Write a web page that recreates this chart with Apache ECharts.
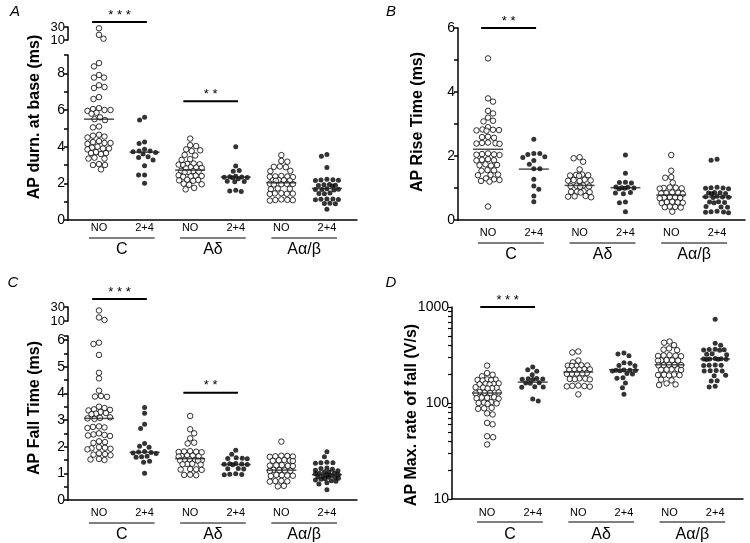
<!DOCTYPE html>
<html><head><meta charset="utf-8">
<script src="https://cdn.jsdelivr.net/npm/echarts@6/dist/echarts.min.js"></script>
<style>html,body{margin:0;padding:0;background:#fff}#main{width:750px;height:543px}</style>
</head><body><div id="main"></div>
<script>
// ---------------- DATA ----------------
const groupNames = ['C', 'Aδ', 'Aα/β'];
const condLabels = ['NO', '2+4'];
const columns = [1, 2, 3, 4, 5, 6];
const groupCentres = [1.5, 3.5, 5.5];

// A: AP duration at base (ms)
const durC_NO_hi = [28, 18, 12];
const durC_NO = [8.56, 8.38, 7.91, 7.77, 7.77, 7.35, 7.25, 7.2, 6.7, 6.6, 6.1, 6.05, 6.0, 6.0, 5.95, 5.85, 5.8, 5.6, 5.5, 5.45, 5.1, 5.05, 4.65, 4.6, 4.55, 4.5, 4.3, 4.25, 4.2, 4.2, 4.15, 4.0, 3.95, 3.9, 3.9, 3.85, 3.7, 3.65, 3.65, 3.6, 3.4, 3.35, 3.35, 3.05, 3.0, 3.0, 2.76];
const durC_24 = [5.6, 5.45, 4.26, 4.17, 3.86, 3.77, 3.77, 3.72, 3.68, 3.6, 3.45, 3.41, 3.27, 2.96, 2.45, 2.45, 2.0];
const durAd_NO = [4.44, 4.08, 4.03, 3.85, 3.8, 3.76, 3.55, 3.52, 3.32, 3.28, 3.08, 3.06, 3.04, 3.02, 3.0, 2.88, 2.86, 2.84, 2.82, 2.68, 2.66, 2.64, 2.62, 2.6, 2.44, 2.42, 2.4, 2.38, 2.36, 2.2, 2.18, 2.16, 2.14, 1.98, 1.95, 1.92, 1.75, 1.67];
const durAd_24 = [3.99, 2.94, 2.7, 2.66, 2.38, 2.36, 2.34, 2.33, 2.32, 2.3, 2.25, 2.12, 2.1, 2.08, 1.62, 1.58, 1.55];
const durAa_NO = [3.54, 3.22, 3.18, 2.92, 2.9, 2.88, 2.68, 2.66, 2.4, 2.38, 2.37, 2.36, 2.34, 2.18, 2.17, 2.16, 2.15, 2.14, 1.98, 1.97, 1.96, 1.95, 1.94, 1.72, 1.7, 1.68, 1.46, 1.45, 1.44, 1.43, 1.42, 1.12, 1.1, 1.09, 1.08, 1.06];
const durAa_24 = [3.57, 3.48, 2.87, 2.22, 2.2, 2.18, 2.17, 2.15, 1.94, 1.92, 1.9, 1.88, 1.86, 1.7, 1.68, 1.67, 1.66, 1.64, 1.47, 1.45, 1.43, 1.15, 1.14, 1.13, 1.12, 1.1, 0.92, 0.9, 0.88, 0.58];
const durMedians = [5.5, 3.7, 2.72, 2.34, 2.03, 1.72];
const durTicks = [0, 2, 4, 6, 8];
const durBreakTicks = [10, 30];

// B: AP rise time (ms)
const riseC_NO = [5.05, 3.8, 3.7, 3.41, 3.33, 3.2, 3.1, 3.08, 2.9, 2.83, 2.82, 2.81, 2.8, 2.79, 2.6, 2.59, 2.57, 2.42, 2.41, 2.4, 2.39, 2.38, 2.08, 2.06, 2.05, 2.04, 2.03, 1.9, 1.88, 1.87, 1.86, 1.74, 1.72, 1.71, 1.7, 1.56, 1.55, 1.54, 1.42, 1.41, 1.4, 1.3, 1.27, 1.25, 1.22, 1.2, 0.42];
const riseC_24 = [2.52, 2.08, 2.08, 2.05, 1.98, 1.95, 1.86, 1.74, 1.6, 1.6, 1.27, 1.06, 0.96, 0.75, 0.57];
const riseAd_NO = [1.96, 1.93, 1.82, 1.58, 1.42, 1.41, 1.4, 1.39, 1.38, 1.26, 1.25, 1.24, 1.23, 1.22, 1.08, 1.07, 1.06, 1.05, 1.04, 0.9, 0.89, 0.88, 0.87, 0.86, 0.75, 0.74, 0.73, 0.71];
const riseAd_24 = [2.03, 1.46, 1.18, 1.17, 1.16, 1.03, 1.02, 1.01, 1.0, 0.99, 0.98, 0.86, 0.84, 0.82, 0.56, 0.54, 0.26];
const riseAa_NO = [2.03, 1.54, 1.34, 1.32, 1.17, 1.02, 1.01, 1.0, 0.99, 0.98, 0.86, 0.85, 0.84, 0.83, 0.82, 0.72, 0.71, 0.7, 0.69, 0.68, 0.57, 0.56, 0.55, 0.54, 0.53, 0.42, 0.41, 0.4, 0.39, 0.26];
const riseAa_24 = [1.9, 1.87, 1.02, 1.01, 1.0, 0.99, 0.98, 0.86, 0.85, 0.84, 0.83, 0.82, 0.74, 0.73, 0.72, 0.71, 0.7, 0.57, 0.56, 0.55, 0.54, 0.42, 0.41, 0.4, 0.27, 0.26, 0.25, 0.24, 0.23];
const riseMedians = [2.21, 1.59, 1.08, 1.01, 0.78, 0.72];
const riseTicks = [0, 2, 4, 6];

// C: AP fall time (ms)
const fallC_NO_hi = [25, 15, 11.5];
const fallC_NO = [5.9, 5.85, 5.44, 4.77, 4.56, 4.1, 3.9, 3.88, 3.87, 3.5, 3.45, 3.4, 3.38, 3.36, 3.3, 3.26, 3.24, 3.22, 3.1, 3.08, 3.06, 3.04, 2.76, 2.74, 2.72, 2.7, 2.5, 2.46, 2.44, 2.42, 2.4, 2.2, 2.17, 2.14, 1.98, 1.96, 1.94, 1.92, 1.9, 1.75, 1.72, 1.7, 1.68, 1.54, 1.52, 1.5];
const fallC_24 = [3.47, 3.25, 2.84, 2.68, 2.12, 2.02, 1.98, 1.82, 1.8, 1.78, 1.76, 1.74, 1.64, 1.62, 1.6, 1.45, 1.42, 1.0];
const fallAd_NO = [3.15, 2.65, 2.5, 2.31, 2.15, 2.12, 1.83, 1.82, 1.81, 1.8, 1.79, 1.67, 1.66, 1.65, 1.64, 1.63, 1.52, 1.51, 1.5, 1.49, 1.48, 1.47, 1.36, 1.35, 1.34, 1.33, 1.16, 1.15, 1.14, 1.13, 0.95, 0.94, 0.93];
const fallAd_24 = [1.87, 1.72, 1.58, 1.57, 1.56, 1.55, 1.37, 1.36, 1.35, 1.34, 1.33, 1.32, 1.18, 1.17, 1.16, 0.98, 0.97, 0.96, 0.95];
const fallAa_NO = [2.19, 1.66, 1.65, 1.64, 1.63, 1.62, 1.5, 1.49, 1.48, 1.47, 1.46, 1.31, 1.3, 1.29, 1.28, 1.27, 1.13, 1.12, 1.11, 1.1, 1.09, 0.94, 0.93, 0.92, 0.91, 0.9, 0.72, 0.71, 0.7, 0.69, 0.53, 0.51];
const fallAa_24 = [1.81, 1.62, 1.42, 1.4, 1.4, 1.38, 1.2, 1.18, 1.15, 1.12, 1.1, 1.05, 1.05, 1.0, 1.0, 0.98, 0.95, 0.95, 0.92, 0.9, 0.88, 0.85, 0.85, 0.82, 0.8, 0.78, 0.75, 0.72, 0.7, 0.65, 0.6, 0.38];
const fallMedians = [3.06, 1.79, 1.55, 1.33, 1.12, 0.95];
const fallTicks = [0, 1, 2, 3, 4, 5, 6];
const fallTickMarks = [0, 0.5, 1, 1.5, 2, 2.5, 3, 3.5, 4, 4.5, 5, 5.5, 6, 6.15];
const fallBreakTicks = [10, 30];

// D: AP max rate of fall (V/s)
const rateC_NO = [245, 205, 197, 190, 176, 175, 174, 173, 172, 160, 159, 158, 157, 156, 146, 145, 144, 143, 142, 130, 129, 128, 127, 126, 115, 114, 113, 112, 111, 102, 101, 100, 99, 98, 89, 88, 87, 78, 76, 62, 60, 45, 44, 37];
const rateC_24 = [237, 222, 214, 197, 180, 179, 178, 177, 176, 163, 162, 161, 148, 147, 146, 110, 105];
const rateAd_NO = [344, 336, 277, 265, 247, 246, 245, 244, 243, 225, 224, 223, 222, 221, 205, 204, 203, 202, 201, 180, 179, 178, 177, 176, 152, 151, 150, 149, 148, 123];
const rateAd_24 = [331, 323, 311, 262, 260, 246, 244, 221, 220, 219, 218, 217, 216, 203, 201, 183, 181, 162, 144, 123];
const rateAa_NO = [437, 425, 400, 370, 360, 355, 315, 313, 311, 309, 307, 280, 279, 278, 277, 276, 250, 249, 248, 247, 246, 225, 224, 223, 222, 221, 198, 197, 196, 195, 194, 175, 172, 160, 156, 154];
const rateAa_24 = [745, 420, 400, 362, 360, 358, 356, 354, 325, 322, 319, 290, 289, 288, 287, 286, 285, 284, 249, 248, 247, 246, 218, 217, 216, 215, 194, 192, 171, 169, 149, 147];
const rateMedians = [127, 165, 210, 222, 250, 288];
const rateTicks = [10, 100, 1000];
const rateTickMarks = [10, 20, 30, 40, 50, 60, 70, 80, 90, 100, 200, 300, 400, 500, 600, 700, 800, 900, 1000];

// ---------------- LAYOUT ----------------
const FONT = '"Liberation Sans", Arial, sans-serif';
const chart = echarts.init(document.getElementById('main'), null, { renderer: 'canvas' });

const grids = [
  { left: 68, top: 55, width: 289, height: 165 },   // 0 A lower
  { left: 68, top: 27, width: 289, height: 13 },    // 1 A upper (break)
  { left: 458, top: 28, width: 287, height: 192 },  // 2 B
  { left: 68, top: 336, width: 289, height: 164 },  // 3 C lower
  { left: 68, top: 307, width: 289, height: 14 },   // 4 C upper (break)
  { left: 452, top: 307, width: 291, height: 193 }  // 5 D
];
const xRanges = [[0.32, 6.66], [0.32, 6.66], [0.345, 6.61], [0.32, 6.66], [0.32, 6.66], [0.23, 6.61]];
const labelOffsets = { 0: [8, 18, 30], 2: [13, 23, 35], 3: [13, 23, 35], 5: [14, 23, 36] };

const axisLineStyle = { color: '#000', width: 1.5 };
const xAxes = grids.map((g, i) => {
  const off = labelOffsets[i];
  return {
    type: 'value', gridIndex: i, min: xRanges[i][0], max: xRanges[i][1],
    show: !!off,
    axisLine: { show: true, onZero: false, lineStyle: axisLineStyle },
    axisTick: { show: false }, splitLine: { show: false },
    axisLabel: off ? {
      customValues: columns, formatter: v => condLabels[(Math.round(v) - 1) % 2],
      fontSize: 11, fontFamily: FONT, color: '#000', margin: off[0] - 6
    } : { show: false }
  };
});
[0, 2, 3, 5].forEach(i => {
  xAxes.push({
    type: 'value', gridIndex: i, min: xRanges[i][0], max: xRanges[i][1], position: 'bottom',
    axisLine: { show: false }, axisTick: { show: false }, splitLine: { show: false },
    axisLabel: {
      customValues: groupCentres, formatter: v => groupNames[Math.round((v - 1.5) / 2)],
      fontSize: 16, fontFamily: FONT, color: '#000', margin: labelOffsets[i][2] - 8
    }
  });
});

function linY(grid, min, max, interval, labels, fs, tickMarks) {
  const tick = { show: true, length: 4, lineStyle: axisLineStyle };
  if (tickMarks) tick.customValues = tickMarks;
  return {
    type: 'value', gridIndex: grid, min, max, interval, position: 'left',
    axisLine: { show: true, onZero: false, lineStyle: axisLineStyle },
    axisTick: tick,
    splitLine: { show: false },
    axisLabel: { customValues: labels, fontSize: fs || 14, fontFamily: FONT, color: '#000', margin: 3 }
  };
}
const yAxes = [
  linY(0, 0, 9, 1, durTicks),
  linY(1, 10, 30, 20, durBreakTicks, 13),
  linY(2, 0, 6, 1, riseTicks),
  linY(3, 0, 6.15, 1, fallTicks, 14, fallTickMarks),
  linY(4, 10, 30, 20, fallBreakTicks, 13),
  {
    type: 'log', logBase: 10, gridIndex: 5, min: 10, max: 1000, position: 'left',
    axisLine: { show: true, onZero: false, lineStyle: axisLineStyle },
    axisTick: { show: true, length: 4, customValues: rateTickMarks, lineStyle: { color: '#000', width: 1.2 } },
    splitLine: { show: false },
    axisLabel: { customValues: rateTicks, formatter: v => String(Math.round(v)), fontSize: 14, fontFamily: FONT, color: '#000', margin: 3 }
  }
];

chart.setOption({
  animation: false, backgroundColor: '#fff',
  grid: grids, xAxis: xAxes, yAxis: yAxes, series: []
});

function px(xi, yi, x, y) { return chart.convertToPixel({ xAxisIndex: xi, yAxisIndex: yi }, [x, y]); }

// bounded beeswarm layout: offsets in pixels, capped at +-maxW
function swarm(vals, xi, yi, col, d, maxW) {
  const unit = px(xi, yi, col + 1, vals[0])[0] - px(xi, yi, col, vals[0])[0];
  const pts = vals.map(v => ({ v, py: px(xi, yi, col, v)[1] })).sort((a, b) => a.py - b.py);
  const placed = [];
  const cands = [0];
  for (let s = 0.5; s <= maxW; s += 0.5) { cands.push(s, -s); }
  return pts.map((p, idx) => {
    let best = null, bestScore = -1;
    const flip = idx % 2 ? -1 : 1;
    for (const c0 of cands) {
      const c = c0 * flip;
      let md = Infinity;
      for (const q of placed) {
        const dd = Math.hypot(q.x - c, q.y - p.py);
        if (dd < md) md = dd;
      }
      if (md >= d) { best = c; break; }
      if (md > bestScore) { bestScore = md; best = c; }
    }
    placed.push({ x: best, y: p.py });
    return [col + best / unit, p.v];
  });
}

const panels = [
  { xi: 0, yi: 0, sets: [durC_NO, durC_24, durAd_NO, durAd_24, durAa_NO, durAa_24], med: durMedians, hi: { xi: 1, yi: 1, vals: durC_NO_hi } },
  { xi: 2, yi: 2, sets: [riseC_NO, riseC_24, riseAd_NO, riseAd_24, riseAa_NO, riseAa_24], med: riseMedians },
  { xi: 3, yi: 3, sets: [fallC_NO, fallC_24, fallAd_NO, fallAd_24, fallAa_NO, fallAa_24], med: fallMedians, hi: { xi: 4, yi: 4, vals: fallC_NO_hi } },
  { xi: 5, yi: 5, sets: [rateC_NO, rateC_24, rateAd_NO, rateAd_24, rateAa_NO, rateAa_24], med: rateMedians }
];

const openStyle = { color: '#fff', borderColor: '#000', borderWidth: 1 };
const fillStyle = { color: '#000' };
const series = [];
const DIAM = 5.6, MAXW = 11.5;
panels.forEach(p => {
  p.sets.forEach((vals, s) => {
    const filled = s % 2 === 1;
    series.push({
      type: 'scatter', xAxisIndex: p.xi, yAxisIndex: p.yi, silent: true, z: 2,
      symbol: 'circle', symbolSize: filled ? 5 : 5.5,
      itemStyle: filled ? fillStyle : openStyle,
      data: swarm(vals, p.xi, p.yi, columns[s], DIAM, MAXW)
    });
  });
  if (p.hi) {
    series.push({
      type: 'scatter', xAxisIndex: p.hi.xi, yAxisIndex: p.hi.yi, silent: true, z: 2,
      symbol: 'circle', symbolSize: 5.5, itemStyle: openStyle,
      data: swarm(p.hi.vals, p.hi.xi, p.hi.yi, columns[0], DIAM, MAXW)
    });
  }
  series.push({
    type: 'scatter', xAxisIndex: p.xi, yAxisIndex: p.yi, silent: true, z: 3,
    symbol: 'rect', symbolSize: [30, 1.5], itemStyle: { color: '#222' },
    data: p.med.map((m, i) => [columns[i], m])
  });
});

// ---------------- ANNOTATIONS ----------------
const graphic = [];
const line = (x1, y1, x2, y2, w) => ({ type: 'line', silent: true, shape: { x1, y1, x2, y2 }, style: { stroke: '#000', lineWidth: w } });
const text = (x, y, t, font, rot) => ({
  type: 'text', silent: true, x, y, rotation: rot || 0,
  style: { text: t, font, fill: '#000', textAlign: 'center', textVerticalAlign: 'middle' }
});

// group underlines
[{ xi: 0, yi: 0, base: 0 }, { xi: 2, yi: 2, base: 0 }, { xi: 3, yi: 3, base: 0 }, { xi: 5, yi: 5, base: 10 }].forEach(a => {
  const off = labelOffsets[a.xi][1];
  for (let g = 0; g < 3; g++) {
    const p1 = px(a.xi, a.yi, columns[2 * g] - 0.22, a.base);
    const p2 = px(a.xi, a.yi, columns[2 * g + 1] + 0.22, a.base);
    graphic.push(line(p1[0], p1[1] + off, p2[0], p2[1] + off, 1));
  }
});

// significance bars
const sigBars = [
  { xi: 1, yi: 1, from: 1, to: 2, level: 37.7, stars: '* * *' },
  { xi: 0, yi: 0, from: 3, to: 4, level: 6.48, stars: '* *' },
  { xi: 2, yi: 2, from: 1, to: 2, level: 6.0, stars: '* *' },
  { xi: 4, yi: 4, from: 1, to: 2, level: 41.4, stars: '* * *' },
  { xi: 3, yi: 3, from: 3, to: 4, level: 4.02, stars: '* *' },
  { xi: 5, yi: 5, from: 1, to: 2, level: 1000, stars: '* * *' }
];
sigBars.forEach(b => {
  const p1 = px(b.xi, b.yi, b.from - 0.15, b.level);
  const p2 = px(b.xi, b.yi, b.to + 0.05, b.level);
  graphic.push(line(p1[0], p1[1], p2[0], p2[1], 2));
  graphic.push(text((p1[0] + p2[0]) / 2, p1[1] - 7, b.stars, '13px ' + FONT));
});

// axis titles and panel letters
const titleFont = 'bold 16px ' + FONT;
graphic.push(text(35, 117, 'AP durn. at base (ms)', titleFont, Math.PI / 2));
graphic.push(text(418, 122, 'AP Rise Time (ms)', titleFont, Math.PI / 2));
graphic.push(text(35, 408, 'AP Fall Time (ms)', titleFont, Math.PI / 2));
graphic.push(text(412, 415, 'AP Max. rate of fall (V/s)', titleFont, Math.PI / 2));
const letterFont = 'italic 15px ' + FONT;
graphic.push(text(15, 12, 'A', letterFont));
graphic.push(text(391, 12, 'B', letterFont));
graphic.push(text(13, 283, 'C', letterFont));
graphic.push(text(391, 283, 'D', letterFont));

chart.setOption({ series, graphic });
</script></body></html>
